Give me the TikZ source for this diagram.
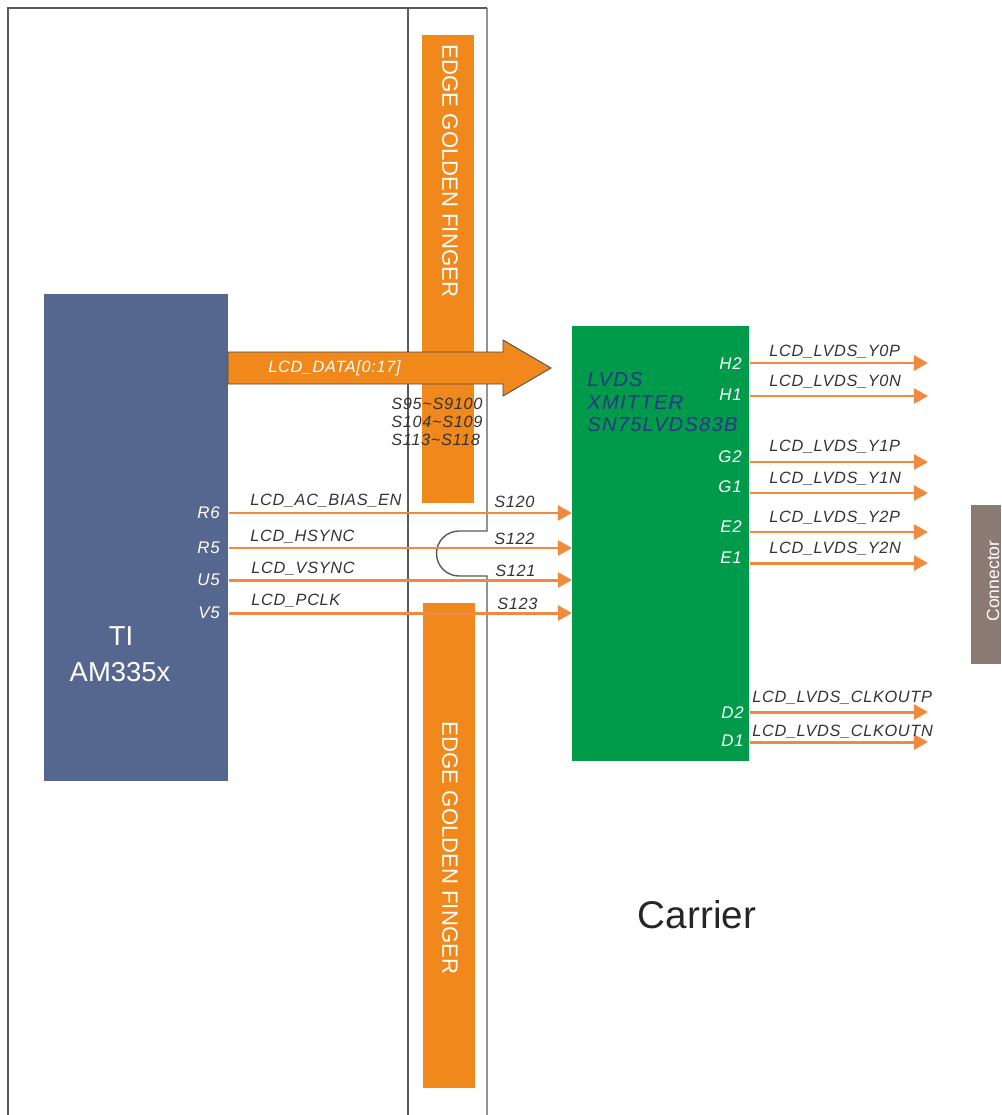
\documentclass[tikz,border=0pt]{standalone}
\usepackage{fontspec}
\setmainfont{Liberation Sans}
\newfontfamily\sigfont[LetterSpace=4]{Liberation Sans}
\newfontfamily\chipfont[LetterSpace=6]{Liberation Sans}
\usepackage{xcolor}
\usepackage{tikz}
\usetikzlibrary{arrows.meta,positioning,calc}

\definecolor{finorange}{HTML}{F0881C}
\definecolor{wireorange}{HTML}{F08A3E}
\definecolor{tiblue}{HTML}{56678F}
\definecolor{lvdsgreen}{HTML}{009B4A}
\definecolor{connbrown}{HTML}{8A7A72}
\definecolor{chipnavy}{HTML}{2E3588}
\definecolor{textgray}{HTML}{333333}

\begin{document}
\begin{tikzpicture}[x=0.02cm,y=-0.02cm,
	frame/.style={draw=black!65,line width=0.8pt},
	finger/.style={fill=finorange,inner sep=0pt,minimum width=1.04cm},
	fingtext/.style={rotate=-90,text=white,inner sep=0pt,font=\fontsize{12.6}{14}\selectfont},
	wire/.style={draw=wireorange,line width=1.7pt,-{Triangle[length=8pt,width=8.5pt]}},
	sig/.style={font=\sigfont\fontsize{9.3}{11}\selectfont\itshape,text=textgray,inner sep=0pt,anchor=west},
	pin/.style={font=\sigfont\fontsize{9.6}{11}\selectfont\itshape,text=white,inner sep=0pt,anchor=east},
	chiptext/.style={font=\chipfont\fontsize{11.5}{13}\selectfont\itshape,text=chipnavy,inner sep=0pt,anchor=west},
	bigtext/.style={text=white,inner sep=0pt,font=\fontsize{15.6}{18}\selectfont}]
	\useasboundingbox (0,0) rectangle (1001,1115);
	
	% module outline
	\draw[frame] (8,1115) -- (8,8) -- (487,8);
	\draw[frame] (408,8) -- (408,1115);
	\draw[frame] (487,8) -- (487,531) -- (459,531) arc[start angle=270,end angle=90,radius=22.5] -- (487,576) -- (487,1115);
	
	% golden fingers
	\node[finger,minimum height=9.36cm] (fingtop) at (448,269) {};
	\node[finger,minimum height=9.7cm] (fingbot) at (449,845.5) {};
	\node[fingtext] (fingtoplbl) at (450,171) {EDGE GOLDEN FINGER};
	\node[fingtext] (fingbotlbl) at (450,848) {EDGE GOLDEN FINGER};
	
	% blocks
	\node[fill=tiblue,inner sep=0pt,minimum width=3.68cm,minimum height=9.74cm,anchor=north west] (ti) at (44,294) {};
	\node[bigtext] (tiname) at (121,636) {TI};
	\node[bigtext] (tipart) at (120,672) {AM335x};
	
	\node[fill=lvdsgreen,inner sep=0pt,minimum width=3.54cm,minimum height=8.7cm,anchor=north west] (lvds) at (572,326) {};
	\node[chiptext] (lvdsl1) at (587,380) {LVDS};
	\node[chiptext] (lvdsl2) at (587,403) {XMITTER};
	\node[chiptext] (lvdsl3) at (587,425) {SN75LVDS83B};
	
	\node[fill=connbrown,inner sep=0pt,minimum width=0.6cm,minimum height=3.18cm,anchor=north west] (conn) at (971,505) {};
	\node[rotate=90,text=white,inner sep=0pt,font=\fontsize{10}{12}\selectfont] (connlbl) at (993,581) {Connector};
	
	% data bus
	\draw[fill=finorange,draw=black!70,line width=0.5pt] (228,352) -- (503,352) -- (503,340) -- (551,368) -- (503,396) -- (503,384) -- (228,384) -- cycle;
	\node[sig,text=white] (buslbl) at (268,368) {LCD\_DATA[0:17]};
	\node[sig] (busp1) at (391,404) {S95\textasciitilde S9100};
	\node[sig] (busp2) at (391,422) {S104\textasciitilde S109};
	\node[sig] (busp3) at (391,440) {S113\textasciitilde S118};
	
	% control signals
	\node[pin] (r6) at (220,513) {R6};
	\node[pin] (r5) at (220,548) {R5};
	\node[pin] (u5) at (220,580) {U5};
	\node[pin] (v5) at (220,613) {V5};
	\draw[wire] (ti.east |- r6) -- (lvds.west |- r6);
	\draw[wire] (ti.east |- r5) -- (lvds.west |- r5);
	\draw[wire] (ti.east |- u5) -- (lvds.west |- u5);
	\draw[wire] (ti.east |- v5) -- (lvds.west |- v5);
	\node[sig] (acbias) at (250,501) {LCD\_AC\_BIAS\_EN};
	\node[sig] (hsync) at (250,537) {LCD\_HSYNC};
	\node[sig] (vsync) at (251,569) {LCD\_VSYNC};
	\node[sig] (pclk) at (251,601) {LCD\_PCLK};
	\node[sig] (s120) at (494,502) {S120};
	\node[sig] (s122) at (494,539) {S122};
	\node[sig] (s121) at (495,571) {S121};
	\node[sig] (s123) at (497,604) {S123};
	
	% lvds outputs
	\coordinate (h2end) at (928,363);
	\coordinate (h1end) at (928,396);
	\coordinate (g2end) at (928,462);
	\coordinate (g1end) at (928,493);
	\coordinate (e2end) at (928,532);
	\coordinate (e1end) at (928,563);
	\coordinate (d2end) at (928,712);
	\coordinate (d1end) at (928,742);
	\draw[wire] (lvds.east |- h2end) -- (h2end);
	\draw[wire] (lvds.east |- h1end) -- (h1end);
	\draw[wire] (lvds.east |- g2end) -- (g2end);
	\draw[wire] (lvds.east |- g1end) -- (g1end);
	\draw[wire] (lvds.east |- e2end) -- (e2end);
	\draw[wire] (lvds.east |- e1end) -- (e1end);
	\draw[wire] (lvds.east |- d2end) -- (d2end);
	\draw[wire] (lvds.east |- d1end) -- (d1end);
	\node[pin] (h2) at (742,364) {H2};
	\node[pin] (h1) at (742,395) {H1};
	\node[pin] (g2) at (742,457) {G2};
	\node[pin] (g1) at (742,487) {G1};
	\node[pin] (e2) at (742,527) {E2};
	\node[pin] (e1) at (742,558) {E1};
	\node[pin] (d2) at (744,713) {D2};
	\node[pin] (d1) at (744,741) {D1};
	\node[sig] (y0p) at (769,352) {LCD\_LVDS\_Y0P};
	\node[sig] (y0n) at (769,382) {LCD\_LVDS\_Y0N};
	\node[sig] (y1p) at (769,447) {LCD\_LVDS\_Y1P};
	\node[sig] (y1n) at (769,479) {LCD\_LVDS\_Y1N};
	\node[sig] (y2p) at (769,518) {LCD\_LVDS\_Y2P};
	\node[sig] (y2n) at (769,549) {LCD\_LVDS\_Y2N};
	\node[sig] (clkp) at (752,698) {LCD\_LVDS\_CLKOUTP};
	\node[sig] (clkn) at (752,732) {LCD\_LVDS\_CLKOUTN};
	
	\node[text=black!85,inner sep=0pt,font=\fontsize{22}{26}\selectfont] (carrier) at (697,915) {Carrier};
\end{tikzpicture}
\end{document}
